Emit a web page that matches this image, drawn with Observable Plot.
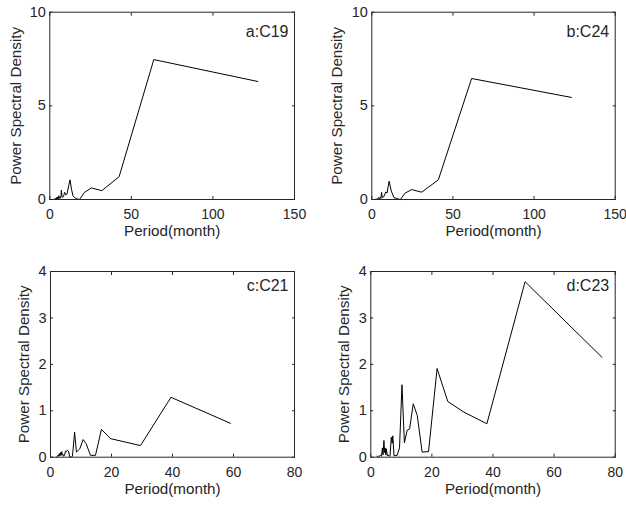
<!DOCTYPE html>
<html><head><meta charset="utf-8">
<script src="https://cdn.jsdelivr.net/npm/d3@7"></script>
<script src="https://cdn.jsdelivr.net/npm/@observablehq/plot@0.6"></script>
<style>
body{margin:0;background:#fff;}
#fig{position:relative;width:626px;height:505px;background:#fff;font-family:"Liberation Sans",Arial,Helvetica,sans-serif;}
.p{position:absolute;}
</style></head><body><div id="fig"></div>
<script>
// Panel a: C19
const periodA = [2.0,2.2,2.4,2.6,2.8,3.0,3.2,3.4,3.6,3.8,4.0,4.2,4.4,4.6,4.8,5.0,5.2,5.4,5.6,5.9,6.2,6.5,6.8,7.1,7.5,8.0,8.5,9.1,9.8,10.6,11.6,12.4,13.3,14.2,15.9,18.2,21.25,25.5,31.9,42.5,63.75,127.5];
const psdA    = [0.0,0.01,0.0,0.02,0.01,0.03,0.01,0.05,0.02,0.08,0.03,0.1,0.05,0.12,0.04,0.08,0.15,0.05,0.2,0.1,0.05,0.12,0.1,0.5,0.15,0.12,0.2,0.38,0.25,0.3,0.75,1.05,0.55,0.2,0.05,0.0,0.38,0.62,0.47,1.22,7.47,6.3];
// Panel b: C24
const periodB = [2.0,2.3,2.6,2.9,3.2,3.5,3.8,4.1,4.4,4.7,5.0,5.3,5.6,6.0,6.5,7.4,8.6,9.4,10.7,12.0,13.7,15.4,17.6,20.5,24.6,30.75,41.0,61.5,123.0];
const psdB    = [0.0,0.01,0.0,0.02,0.01,0.04,0.02,0.08,0.12,0.05,0.06,0.1,0.05,0.38,0.1,0.15,0.4,0.35,0.98,0.45,0.1,0.05,0.0,0.34,0.53,0.39,1.05,6.46,5.45];
// Panel c: C21
const periodC = [2.0,2.3,2.5,2.7,2.9,3.1,3.3,3.5,3.7,3.9,4.1,4.3,4.6,4.9,5.2,5.5,5.9,6.3,6.8,7.2,7.9,8.5,9.6,10.7,11.7,13.1,14.75,16.7,19.7,29.5,39.5,59.0];
const psdC    = [0.0,0.01,0.05,0.02,0.08,0.03,0.1,0.04,0.12,0.05,0.06,0.02,0.04,0.13,0.12,0.15,0.13,0.01,0.0,0.02,0.54,0.11,0.18,0.38,0.29,0.04,0.04,0.6,0.4,0.25,1.29,0.73];
// Panel d: C23
const periodD = [2.0,2.3,2.6,2.9,3.2,3.5,3.8,4.0,4.3,4.5,4.7,4.9,5.1,5.4,5.7,6.0,6.3,6.7,7.0,7.2,7.6,8.6,9.4,10.2,11.0,11.9,12.7,13.9,15.2,16.8,18.9,21.7,25.2,30.5,38.0,50.5,75.7];
const psdD    = [0.02,0.01,0.03,0.02,0.04,0.02,0.2,0.05,0.36,0.1,0.2,0.05,0.18,0.03,0.05,0.02,0.03,0.43,0.3,0.46,0.03,0.04,0.2,1.56,0.31,0.58,0.61,1.15,0.9,0.11,0.12,1.91,1.2,0.97,0.72,3.78,2.15];

const tags = ["a:C19","b:C24","c:C21","d:C23"];
const xTicksTop = [0,50,100,150];
const yTicksTop = [0,5,10];
const xTicksBottom = [0,20,40,60,80];
const yTicksBottom = [0,1,2,3,4];
const xLabel = "Period(month)";
const yLabel = "Power Spectral Density";

const layout = [
  {period: periodA, psd: psdA, tag: tags[0], left: 0, top: 0, h: 252, ml: 49.3, mr: 19, mt: 11.7, mb: 53, xd: [0,150], yd: [0,10], xt: xTicksTop, yt: yTicksTop, ylx: 34, tagDy: 19.3},
  {period: periodB, psd: psdB, tag: tags[1], left: 313, top: 0, h: 252, ml: 58.3, mr: 11.3, mt: 11.7, mb: 53, xd: [0,150], yd: [0,10], xt: xTicksTop, yt: yTicksTop, ylx: 35, tagDy: 19.3},
  {period: periodC, psd: psdC, tag: tags[2], left: 0, top: 252, h: 253, ml: 50, mr: 19, mt: 19, mb: 48.3, xd: [0,80], yd: [0,4], xt: xTicksBottom, yt: yTicksBottom, ylx: 26.7, tagDy: 14.3},
  {period: periodD, psd: psdD, tag: tags[3], left: 313, top: 252, h: 253, ml: 57.3, mr: 11.3, mt: 19, mb: 48.3, xd: [0,80], yd: [0,4], xt: xTicksBottom, yt: yTicksBottom, ylx: 27, tagDy: 14}
];

const ink = "#262626";
const fnt = '"Liberation Sans", Arial, Helvetica, sans-serif';
const fmt = d => String(d);
const fig = document.getElementById("fig");
for (const p of layout) {
  const data = p.period.map((x, i) => ({x, y: p.psd[i]}));
  const chart = Plot.plot({
    width: 313, height: p.h,
    marginLeft: p.ml, marginRight: p.mr, marginTop: p.mt, marginBottom: p.mb,
    style: {fontFamily: fnt, fontSize: "14px", color: ink, background: "white", overflow: "visible"},
    x: {domain: p.xd},
    y: {domain: p.yd},
    marks: [
      Plot.line(data, {x: "x", y: "y", stroke: "black", strokeWidth: 1}),
      Plot.frame({stroke: ink, strokeWidth: 1}),
      Plot.axisX({anchor: "bottom", ticks: p.xt, tickFormat: fmt, tickSize: -3, tickPadding: 13, label: null, stroke: ink, fill: ink, fontSize: 14}),
      Plot.axisX({anchor: "top", ticks: p.xt, tickSize: -3, fill: "none", label: null, stroke: ink}),
      Plot.axisY({anchor: "left", ticks: p.yt, tickFormat: fmt, tickSize: -3, tickPadding: 7, label: null, stroke: ink, fill: ink, fontSize: 14.5}),
      Plot.axisY({anchor: "right", ticks: p.yt, tickSize: -3, fill: "none", label: null, stroke: ink}),
      Plot.text([xLabel], {text: d => d, frameAnchor: "bottom", dy: 31.5, lineAnchor: "middle", fontSize: 15.2, fill: ink}),
      Plot.text([yLabel], {text: d => d, frameAnchor: "left", dx: -p.ylx, rotate: -90, textAnchor: "middle", lineAnchor: "middle", fontSize: 15.2, fill: ink}),
      Plot.text([p.tag], {text: d => d, frameAnchor: "top-right", dx: -6, dy: p.tagDy, textAnchor: "end", lineAnchor: "middle", fontSize: 16, fill: ink})
    ]
  });
  const wrap = document.createElement("div");
  wrap.className = "p";
  wrap.style.left = p.left + "px";
  wrap.style.top = p.top + "px";
  wrap.appendChild(chart);
  fig.appendChild(wrap);
}
</script>
</body></html>
